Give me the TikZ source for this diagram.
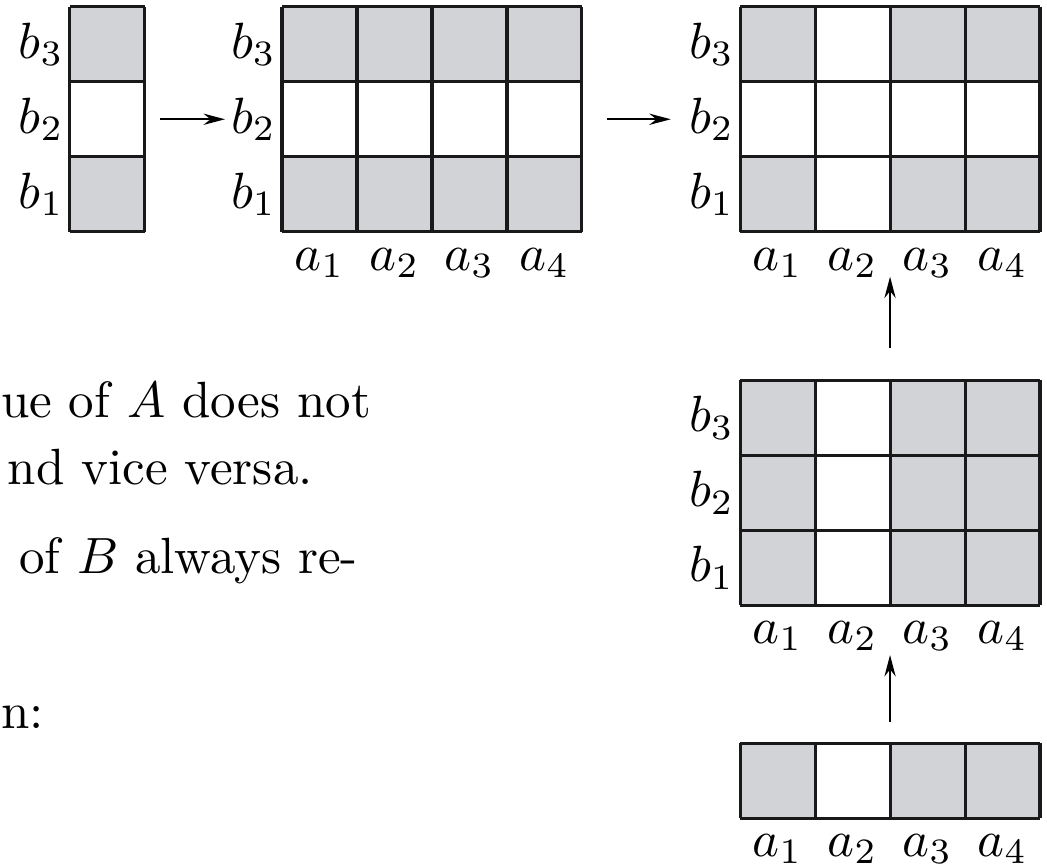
\documentclass[tikz,border=0pt]{standalone}
\usepackage{amsmath}
\usetikzlibrary{positioning, calc, arrows.meta}

\definecolor{cellgray}{RGB}{209,211,214}

\tikzset{
  gridline/.style={line width=0.6pt, black!90},
  blabel/.style={left, inner sep=1pt},
  alabel/.style={below, inner sep=3pt},
  mapto/.style={-{Stealth[length=4.2pt, width=2.2pt]}, line width=0.45pt},
  bodytext/.style={anchor=base west, inner sep=0pt},
}

\begin{document}
\begin{tikzpicture}[x=0.517cm, y=0.517cm]
    \useasboundingbox (0,0) rectangle (13.96,11.52);

    % ================= running text (cut at the left) =================
    \node[bodytext] (t1) at (0,5.947) {ue of $A$ does not};
    \node[bodytext] (t2) at (0.09,5.067) {nd vice versa.};
    \node[bodytext] (t3) at (0.24,3.88) {of $B$ always re-};
    \node[bodytext] (t4) at (0,1.813) {n:};

    % ================= B alone =================
    \begin{scope}[shift={(0.93,8.43)}]
        \fill[cellgray] (0,0) rectangle (1,1);
        \fill[cellgray] (0,2) rectangle (1,3);
        \draw[gridline, step=1] (0,0) grid (1,3);
        \node[blabel] (g1b1) at (0,0.5) {$b_1$};
        \node[blabel] (g1b2) at (0,1.5) {$b_2$};
        \node[blabel] (g1b3) at (0,2.5) {$b_3$};
        \coordinate (g1e) at (1,1.5);
    \end{scope}

    % ================= B extended over A =================
    \begin{scope}[shift={(3.76,8.43)}]
        \fill[cellgray] (0,0) rectangle (4,1);
        \fill[cellgray] (0,2) rectangle (4,3);
        \draw[gridline, step=1] (0,0) grid (4,3);
        \node[blabel] (g2b1) at (0,0.5) {$b_1$};
        \node[blabel] (g2b2) at (0,1.5) {$b_2$};
        \node[blabel] (g2b3) at (0,2.5) {$b_3$};
        \node[alabel] (g2a1) at (0.5,0) {$a_1$};
        \node[alabel] (g2a2) at (1.5,0) {$a_2$};
        \node[alabel] (g2a3) at (2.5,0) {$a_3$};
        \node[alabel] (g2a4) at (3.5,0) {$a_4$};
        \coordinate (g2e) at (4,1.5);
    \end{scope}

    % ================= intersection =================
    \begin{scope}[shift={(9.867,8.43)}]
        \fill[cellgray] (0,0) rectangle (1,1);
        \fill[cellgray] (2,0) rectangle (4,1);
        \fill[cellgray] (0,2) rectangle (1,3);
        \fill[cellgray] (2,2) rectangle (4,3);
        \draw[gridline, step=1] (0,0) grid (4,3);
        \node[blabel] (g3b1) at (0,0.5) {$b_1$};
        \node[blabel] (g3b2) at (0,1.5) {$b_2$};
        \node[blabel] (g3b3) at (0,2.5) {$b_3$};
        \node[alabel] (g3a1) at (0.5,0) {$a_1$};
        \node[alabel] (g3a2) at (1.5,0) {$a_2$};
        \node[alabel] (g3a3) at (2.5,0) {$a_3$};
        \node[alabel] (g3a4) at (3.5,0) {$a_4$};
        \coordinate (g3s) at (2,0);
    \end{scope}

    % ================= A extended over B =================
    \begin{scope}[shift={(9.867,3.453)}]
        \fill[cellgray] (0,0) rectangle (1,3);
        \fill[cellgray] (2,0) rectangle (4,3);
        \draw[gridline, step=1] (0,0) grid (4,3);
        \node[blabel] (g4b1) at (0,0.5) {$b_1$};
        \node[blabel] (g4b2) at (0,1.5) {$b_2$};
        \node[blabel] (g4b3) at (0,2.5) {$b_3$};
        \node[alabel] (g4a1) at (0.5,0) {$a_1$};
        \node[alabel] (g4a2) at (1.5,0) {$a_2$};
        \node[alabel] (g4a3) at (2.5,0) {$a_3$};
        \node[alabel] (g4a4) at (3.5,0) {$a_4$};
        \coordinate (g4n) at (2,3);
        \coordinate (g4s) at (2,0);
    \end{scope}

    % ================= A alone =================
    \begin{scope}[shift={(9.867,0.613)}]
        \fill[cellgray] (0,0) rectangle (1,1);
        \fill[cellgray] (2,0) rectangle (4,1);
        \draw[gridline, step=1] (0,0) grid (4,1);
        \node[alabel] (g5a1) at (0.5,0) {$a_1$};
        \node[alabel] (g5a2) at (1.5,0) {$a_2$};
        \node[alabel] (g5a3) at (2.5,0) {$a_3$};
        \node[alabel] (g5a4) at (3.5,0) {$a_4$};
        \coordinate (g5n) at (2,1);
    \end{scope}

    % ================= arrows =================
    \draw[mapto] ([xshift=2.9pt]g1e) -- (g2b2.west);
    \draw[mapto, shorten >=2.4pt] ([xshift=4.9pt]g2e) -- (g3b2.west);
    \draw[mapto] ([yshift=6.3pt]g4n) -- ([yshift=-8.8pt]g3s);
    \draw[mapto] ([yshift=4.1pt]g5n) -- ([yshift=-9.8pt]g4s);

\end{tikzpicture}
\end{document}
